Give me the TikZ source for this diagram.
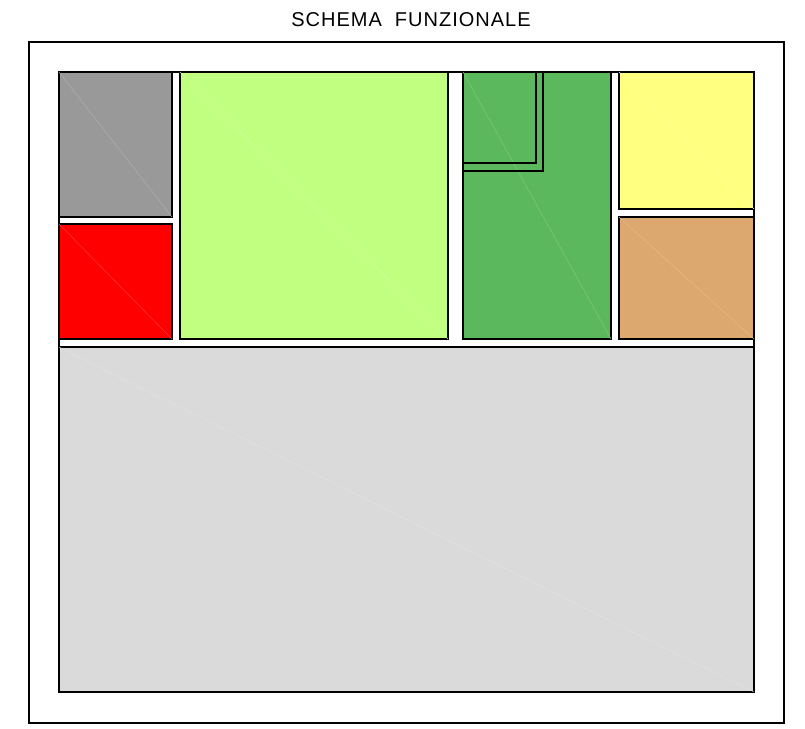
\documentclass[tikz,border=0pt]{standalone}
\usepackage{fontspec}
\setsansfont{Liberation Sans}[LetterSpace=5]
\usepackage{xcolor}
\definecolor{zoneGrey}{RGB}{153,153,153}
\definecolor{zoneRed}{RGB}{255,0,0}
\definecolor{zoneLime}{RGB}{192,255,128}
\definecolor{zoneGreen}{RGB}{92,184,92}
\definecolor{zoneYellow}{RGB}{255,255,128}
\definecolor{zoneOrange}{RGB}{220,168,112}
\definecolor{zoneLight}{RGB}{218,218,218}

\begin{document}
\begin{tikzpicture}[
  x=1pt, y=-1pt,
  frame/.style={draw=black, line width=1.8pt},
  zone/.style={draw=black, line width=1.8pt, fill=#1},
  seam/.style={draw=#1!75!white, line width=0.4pt},
  wall/.style={draw=black, line width=1.8pt},
  title/.style={font=\sffamily\fontsize{20}{24}\selectfont, inner sep=0pt}
]
\useasboundingbox (0,0) rectangle (805,728);

% ---- Title ----
\node (title) [title] at (411,20) {SCHEMA\ \ FUNZIONALE};

% ---- Outer frame and plot ----
\draw [frame] (29,42) rectangle (784,723);
\draw [frame] (59,72) rectangle (754,692);

% ---- Top row: left column ----
\draw [zone=zoneGrey] (59,72) rectangle (172,217);
\draw [seam=zoneGrey] (59,72) -- (172,217);
\draw [zone=zoneRed] (59,224) rectangle (172,339);
\draw [seam=zoneRed] (59,224) -- (172,339);

% ---- Top row: large field ----
\draw [zone=zoneLime] (180,72) rectangle (448,339);
\draw [seam=zoneLime] (180,72) -- (448,339);

% ---- Top row: green block with corner ----
\draw [zone=zoneGreen] (463,72) rectangle (611,339);
\draw [seam=zoneGreen] (463,72) -- (611,339);
\draw [wall] (536,72) |- (463,163);
\draw [wall] (543,72) |- (463,171);

% ---- Top row: right column ----
\draw [zone=zoneYellow] (619,72) rectangle (754,209);
\draw [seam=zoneYellow] (619,72) -- (754,209);
\draw [zone=zoneOrange] (619,217) rectangle (754,339);
\draw [seam=zoneOrange] (619,217) -- (754,339);

% ---- Bottom field ----
\draw [zone=zoneLight] (59,347) rectangle (754,692);
\draw [seam=zoneLight] (59,347) -- (754,692);
\end{tikzpicture}
\end{document}
